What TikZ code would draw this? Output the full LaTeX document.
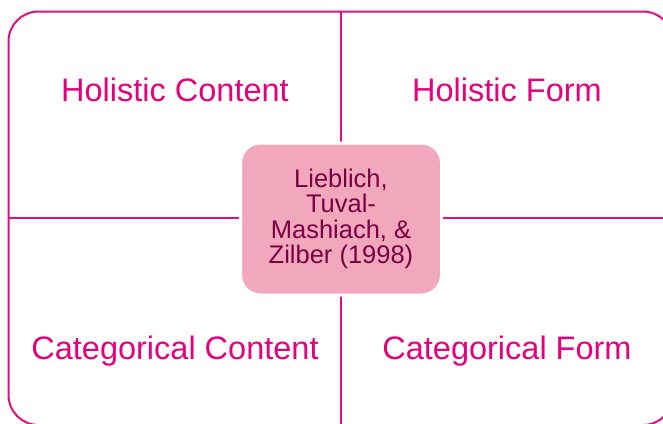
\documentclass[tikz,border=0pt]{standalone}
\usepackage{fontspec}
\setmainfont{Liberation Sans}
\definecolor{linec}{HTML}{E0107E}
\definecolor{labc}{HTML}{E5007E}
\definecolor{boxfill}{HTML}{F2A8BC}
\definecolor{boxtext}{HTML}{7A0043}
\begin{document}
\begin{tikzpicture}[x=1pt,y=-1pt,
  frame/.style={draw=linec,line width=2pt,rounded corners=30pt},
  divider/.style={draw=linec,line width=2pt},
  quadlabel/.style={text=labc,font=\fontsize{32.5}{38}\selectfont,inner sep=0pt},
  centerbox/.style={draw=white,line width=3pt,fill=boxfill,rounded corners=20pt,
    minimum width=201pt,minimum height=152pt,align=center,text=boxtext,
    font=\fontsize{25.5}{25.5}\selectfont}]
\useasboundingbox (0,0) rectangle (663,423);
\draw[frame] (8.5,11.5) rectangle (673,425);
\coordinate (top) at (341,11.5);
\coordinate (bot) at (341,425);
\coordinate (lft) at (8.5,218);
\coordinate (rgt) at (673,218);
\draw[divider] (top) -- (bot);
\draw[divider] (lft) -- (rgt);
\node[centerbox] (c) at (341,219) {Lieblich,\\Tuval-\\Mashiach, \&\\Zilber (1998)};
\node[quadlabel] (hc) at (175,89.5) {Holistic Content};
\node[quadlabel] (hf) at (507,89.5) {Holistic Form};
\node[quadlabel] (cc) at (175,351.5) {Categorical Content};
\node[quadlabel] (cf) at (507,351.5) {Categorical Form};
\end{tikzpicture}
\end{document}
